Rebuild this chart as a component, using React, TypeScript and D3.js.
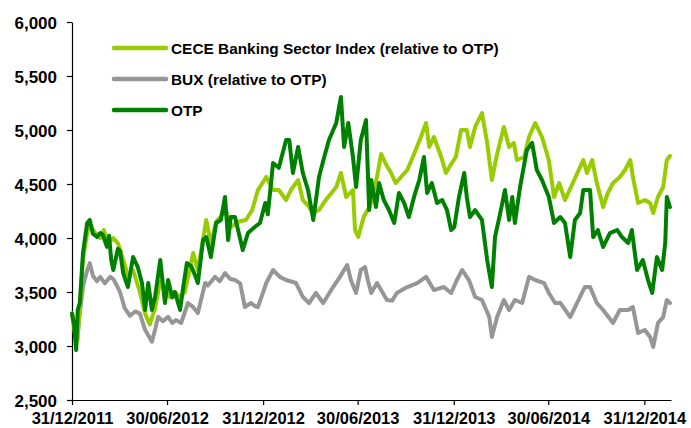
import { useEffect, useRef } from "react";
import * as d3 from "d3";

// values are [days since 31/12/2011, index level]
const startDate = new Date(2011, 11, 31);
const endDate = new Date(2015, 1, 20);

const seriesNames = [
  "CECE Banking Sector Index (relative to OTP)",
  "BUX (relative to OTP)",
  "OTP",
];
const seriesColors = ["#99cc00", "#969696", "#008000"];

const ceceValues: [number, number][] = [
  [0, 3300], [6, 3100], [10, 3050], [15, 3350], [21, 3800], [29, 4050], [34, 4120], [44, 4050],
  [54, 4000], [61, 4074], [69, 3950], [79, 4000], [88, 3950], [98, 3800], [107, 3650], [117, 3700],
  [130, 3500], [140, 3300], [149, 3200], [159, 3350], [169, 3600], [178, 3500], [188, 3450],
  [197, 3500], [207, 3450], [216, 3500], [232, 3861], [241, 3700], [257, 4167], [266, 3950],
  [276, 4150], [285, 4200], [295, 4250], [304, 4100], [318, 4150], [333, 4167], [345, 4259],
  [356, 4444], [372, 4565], [385, 4444], [396, 4444], [410, 4352], [419, 4444], [433, 4537],
  [442, 4352], [452, 4300], [462, 4231], [473, 4259], [486, 4352], [506, 4472], [515, 4602],
  [525, 4380], [538, 4444], [542, 4074], [548, 4009], [559, 4200], [571, 4300], [584, 4565],
  [592, 4778], [601, 4685], [611, 4602], [620, 4509], [630, 4565], [642, 4630], [655, 4778],
  [668, 4935], [678, 5065], [684, 4843], [693, 4935], [707, 4750], [716, 4602], [726, 4685],
  [735, 4750], [745, 5000], [756, 5000], [762, 4843], [772, 5028], [785, 5157], [795, 4880],
  [804, 4537], [814, 4778], [827, 5028], [837, 4843], [846, 4880], [852, 4722], [866, 4750],
  [875, 4935], [887, 5065], [900, 4935], [913, 4722], [923, 4380], [933, 4509], [944, 4352],
  [959, 4509], [979, 4722], [986, 4602], [996, 4722], [1005, 4509], [1017, 4287], [1026, 4417],
  [1036, 4509], [1049, 4565], [1059, 4630], [1069, 4722], [1074, 4565], [1084, 4324],
  [1097, 4352], [1107, 4324], [1113, 4231], [1122, 4380], [1132, 4472], [1139, 4722], [1145, 4760],
];

const buxValues: [number, number][] = [
  [0, 3300], [6, 3150], [10, 3050], [15, 3300], [21, 3550], [29, 3700], [34, 3768], [40, 3650],
  [48, 3600], [54, 3640], [63, 3580], [73, 3640], [79, 3620], [86, 3560], [92, 3500], [101, 3350],
  [111, 3280], [121, 3320], [130, 3300], [140, 3150], [146, 3100], [153, 3040], [159, 3150],
  [165, 3270], [174, 3230], [184, 3270], [192, 3213], [199, 3240], [209, 3213], [222, 3398],
  [232, 3360], [241, 3305], [255, 3583], [260, 3560], [274, 3640], [283, 3600], [293, 3676],
  [303, 3620], [312, 3611], [322, 3580], [331, 3361], [343, 3398], [350, 3370], [356, 3361],
  [372, 3583], [385, 3704], [398, 3640], [410, 3611], [429, 3583], [442, 3454], [454, 3398],
  [467, 3491], [481, 3398], [500, 3546], [513, 3640], [527, 3750], [534, 3611], [544, 3491],
  [553, 3704], [561, 3731], [567, 3600], [573, 3491], [584, 3583], [603, 3426], [613, 3420],
  [622, 3491], [642, 3546], [661, 3583], [678, 3640], [693, 3518], [712, 3546], [726, 3491],
  [737, 3611], [747, 3704], [760, 3611], [772, 3454], [785, 3426], [799, 3268], [804, 3083],
  [814, 3268], [827, 3426], [837, 3333], [848, 3426], [862, 3398], [875, 3640], [887, 3611],
  [904, 3583], [913, 3491], [925, 3398], [935, 3400], [954, 3268], [967, 3398], [982, 3546],
  [992, 3546], [1005, 3398], [1017, 3333], [1036, 3213], [1049, 3333], [1065, 3333], [1074, 3361],
  [1084, 3120], [1097, 3148], [1107, 3083], [1113, 2991], [1122, 3213], [1132, 3268], [1139, 3426],
  [1145, 3398],
];

const otpValues: [number, number][] = [
  [0, 3300], [4, 3200], [8, 2963], [11, 3333], [15, 3400], [21, 3860], [29, 4139], [34, 4167],
  [40, 4040], [48, 4009], [54, 4046], [59, 4030], [67, 3917], [71, 4020], [75, 3800], [79, 3704],
  [88, 3900], [92, 3880], [98, 3676], [107, 3546], [117, 3824], [126, 3731], [134, 3583],
  [140, 3333], [146, 3583], [153, 3333], [159, 3454], [169, 3796], [178, 3398], [184, 3611],
  [192, 3450], [197, 3500], [207, 3333], [213, 3546], [220, 3768], [228, 3740], [236, 3650],
  [241, 3583], [251, 3981], [257, 4009], [266, 3824], [276, 4139], [285, 4167], [293, 4380],
  [299, 3981], [304, 4194], [312, 4194], [318, 4074], [327, 3889], [337, 4046], [350, 4102],
  [360, 4139], [370, 4324], [375, 4220], [385, 4694], [396, 4650], [410, 4907], [416, 4907],
  [423, 4602], [433, 4843], [442, 4602], [452, 4444], [462, 4167], [473, 4565], [483, 4750],
  [492, 4907], [506, 5065], [515, 5306], [521, 4843], [529, 5065], [538, 4750], [544, 4472],
  [553, 4907], [563, 5093], [569, 4259], [573, 4537], [582, 4287], [588, 4509], [597, 4352],
  [607, 4259], [617, 4139], [626, 4417], [636, 4324], [645, 4194], [655, 4380], [665, 4537],
  [674, 4750], [680, 4417], [689, 4509], [699, 4324], [709, 4352], [718, 4259], [726, 4074],
  [732, 4102], [741, 4380], [751, 4602], [756, 4380], [762, 4194], [772, 4259], [785, 4167],
  [795, 3796], [804, 3546], [810, 4009], [820, 4231], [829, 4444], [837, 4167], [843, 4380],
  [848, 4139], [858, 4472], [871, 4815], [881, 4880], [890, 4630], [900, 4537], [913, 4380],
  [923, 4139], [935, 4194], [944, 4139], [954, 3824], [963, 4167], [973, 4231], [979, 4444],
  [992, 4444], [998, 4009], [1007, 4074], [1017, 3917], [1030, 4046], [1044, 4074], [1053, 4009],
  [1065, 3954], [1072, 4074], [1082, 3704], [1093, 3796], [1103, 3611], [1111, 3491], [1120, 3824],
  [1130, 3704], [1136, 3954], [1139, 4380], [1145, 4287],
];

const yTicks = [2500, 3000, 3500, 4000, 4500, 5000, 5500, 6000];
const xTicks = [
  "2011-12-31",
  "2012-06-30",
  "2012-12-31",
  "2013-06-30",
  "2013-12-31",
  "2014-06-30",
  "2014-12-31",
];

const width = 691;
const height = 428;

export default function App() {
  const svgRef = useRef<SVGSVGElement>(null);

  useEffect(() => {
    if (!svgRef.current) return;
    const margin = { top: 22, right: 20, bottom: 28, left: 72 };
    const svg = d3.select(svgRef.current);
    svg.selectAll("*").remove();

    const font = "'Liberation Sans', Arial, sans-serif";

    const x = d3
      .scaleTime()
      .domain([startDate, endDate])
      .range([margin.left, width - margin.right]);
    const y = d3
      .scaleLinear()
      .domain([2500, 6000])
      .range([height - margin.bottom, margin.top]);

    const parse = d3.timeParse("%Y-%m-%d");
    const fmt = d3.timeFormat("%d/%m/%Y");

    // y axis
    svg
      .append("g")
      .attr("transform", `translate(${margin.left},0)`)
      .call(d3.axisLeft(y).tickValues(yTicks).tickFormat(d3.format(",")).tickSize(5).tickSizeOuter(0))
      .call((ax) => ax.selectAll("path,line").attr("stroke", "#000").attr("stroke-width", 1.2))
      .call((ax) =>
        ax
          .selectAll("text")
          .attr("x", -15)
          .attr("dy", "0.36em")
          .style("fill", "#000")
          .style("font-size", "17px")
          .style("font-weight", "bold")
          .style("font-family", font)
      );

    // x axis
    svg
      .append("g")
      .attr("transform", `translate(0,${height - margin.bottom})`)
      .call(
        d3
          .axisBottom(x)
          .tickValues(xTicks.map((d) => parse(d) as Date))
          .tickFormat((d) => fmt(d as Date))
          .tickSize(5)
          .tickSizeOuter(0)
      )
      .call((ax) => ax.selectAll("path,line").attr("stroke", "#000").attr("stroke-width", 1.2))
      .call((ax) =>
        ax
          .selectAll("text")
          .attr("y", 12.5)
          .attr("dy", "0.71em")
          .style("fill", "#000")
          .style("font-size", "16.5px")
          .style("font-weight", "bold")
          .style("font-family", font)
      );

    const line = d3
      .line<[number, number]>()
      .x((d) => x(d3.timeDay.offset(startDate, d[0])))
      .y((d) => y(d[1]));

    const series = [ceceValues, buxValues, otpValues];
    const drawOrder = [1, 0, 2];
    drawOrder.forEach((i) => {
      svg
        .append("path")
        .datum(series[i])
        .attr("d", line)
        .attr("fill", "none")
        .attr("stroke", seriesColors[i])
        .attr("stroke-width", 4)
        .attr("stroke-linejoin", "round")
        .attr("stroke-linecap", "round");
    });

    // legend
    const legend = svg.append("g").attr("transform", "translate(114,48)");
    seriesNames.forEach((name, i) => {
      const row = legend.append("g").attr("transform", `translate(0,${i * 31})`);
      row
        .append("line")
        .attr("x1", 0)
        .attr("x2", 52)
        .attr("stroke", seriesColors[i])
        .attr("stroke-width", 4.5)
        .attr("stroke-linecap", "round");
      row
        .append("text")
        .attr("x", 57)
        .attr("y", 5.5)
        .text(name)
        .style("fill", "#000")
        .style("font-size", "15.4px")
        .style("font-weight", "bold")
        .style("font-family", font);
    });
  }, []);

  return (
    <div style={{ position: "absolute", left: 0, top: 0 }}>
      <svg ref={svgRef} width={width} height={height} style={{ display: "block", background: "#fff" }} />
    </div>
  );
}
